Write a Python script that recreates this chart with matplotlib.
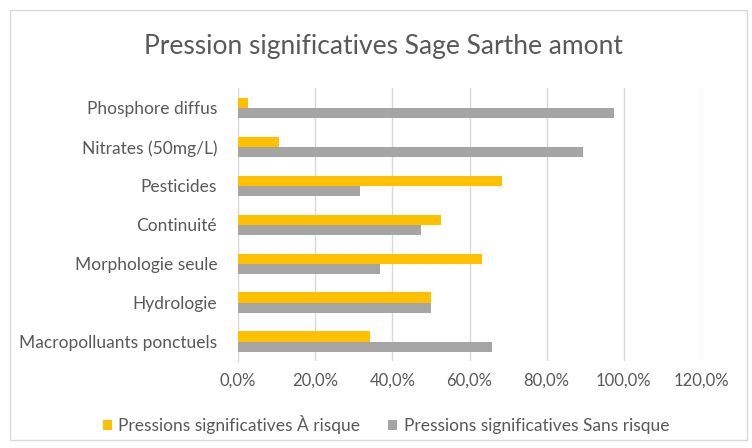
import numpy as np
import matplotlib.pyplot as plt
from matplotlib.patches import Rectangle

categories = ['Phosphore diffus', 'Nitrates (50mg/L)', 'Pesticides', 'Continuité',
              'Morphologie seule', 'Hydrologie', 'Macropolluants ponctuels']
a_risque = [2.6, 10.5, 68.4, 52.6, 63.2, 50.0, 34.2]
sans_risque = [97.4, 89.5, 31.6, 47.4, 36.8, 50.0, 65.8]
xticks = [0, 20, 40, 60, 80, 100, 120]

plt.rcParams['font.family'] = ['Lato', 'DejaVu Sans']
txt = '#595959'

fig = plt.figure(figsize=(7.52, 4.48), dpi=100)
fig.patches.append(Rectangle((0.013, 0.018), 0.98, 0.96, transform=fig.transFigure,
                             fill=False, edgecolor='#d9d9d9', linewidth=1))
ax = fig.add_axes([0.3165, 0.194, 0.6157, 0.609])

y = np.arange(len(categories))
h = 0.26
ax.barh(y - h / 2, a_risque, height=h, color='#FFC000', label='Pressions significatives À risque', zorder=3)
ax.barh(y + h / 2, sans_risque, height=h, color='#A5A5A5', label='Pressions significatives Sans risque', zorder=3)

ax.set_ylim(len(categories) - 0.5, -0.5)
ax.set_xlim(0, 120)
ax.set_xticks(xticks)
ax.set_xticklabels([f'{v:.1f}%'.replace('.', ',') for v in xticks], color=txt, fontsize=12)
ax.set_yticks(y)
ax.set_yticklabels(categories, color=txt, fontsize=12.5)
ax.tick_params(axis='y', length=0, pad=15)
ax.tick_params(axis='x', length=0, pad=8)
ax.grid(axis='x', color='#d9d9d9', linewidth=1, zorder=0)
for s in ['top', 'right', 'bottom']:
    ax.spines[s].set_visible(False)
ax.spines['left'].set_color('#d9d9d9')

fig.text(0.51, 0.897, 'Pression significatives Sage Sarthe amont', ha='center', va='center',
         fontsize=19, color=txt)
fig.legend(loc='center', bbox_to_anchor=(0.513, 0.052), ncol=2, frameon=False, fontsize=12.5,
           handlelength=0.55, handleheight=0.55, handletextpad=0.35, columnspacing=1.6,
           labelcolor=txt)

fig.savefig('out.png', dpi=100)
